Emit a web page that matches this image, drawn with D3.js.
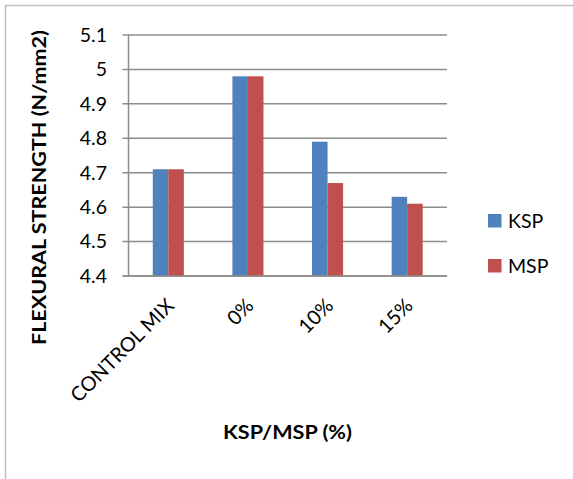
<!DOCTYPE html>
<html>
<head>
<meta charset="utf-8">
<script src="https://cdn.jsdelivr.net/npm/d3@7/dist/d3.min.js"></script>
<style>
  html, body { margin: 0; padding: 0; background: #fff; }
  svg { display: block; }
  text { font-family: Lato, "Open Sans", sans-serif; fill: #000; }
</style>
</head>
<body>
<svg id="chart" width="573" height="479"></svg>
<script>
const categories = ["CONTROL MIX", "0%", "10%", "15%"];
const seriesNames = ["KSP", "MSP"];
const kspValues = [4.71, 4.98, 4.79, 4.63];
const mspValues = [4.71, 4.98, 4.67, 4.61];
const yTicks = [4.4, 4.5, 4.6, 4.7, 4.8, 4.9, 5.0, 5.1];
const colors = ["#4F81BD", "#C0504D"];

const seriesValues = [kspValues, mspValues];
const data = categories.map((c, i) => ({
  cat: c,
  vals: seriesNames.map((s, j) => ({ s, v: seriesValues[j][i], j }))
}));

const svg = d3.select("#chart");

// outer border (extends beyond right & bottom of picture)
svg.append("rect")
  .attr("x", 5.5).attr("y", 5.5)
  .attr("width", 600).attr("height", 500)
  .attr("fill", "none").attr("stroke", "#bfbfbf").attr("stroke-width", 1.5);

const plot = { left: 128.5, right: 447, top: 35, bottom: 276 };

const y = d3.scaleLinear().domain([4.4, 5.1]).range([plot.bottom, plot.top]);
const x0 = d3.scaleBand().domain(categories).range([plot.left, plot.right])
  .paddingInner(0.61).paddingOuter(0.305);
const x1 = d3.scaleBand().domain(seriesNames).range([0, x0.bandwidth()]).padding(0);

// gridlines
svg.append("g")
  .selectAll("line").data(yTicks).join("line")
  .attr("x1", plot.left - 6).attr("x2", plot.right)
  .attr("y1", d => y(d)).attr("y2", d => y(d))
  .attr("stroke", "#8c8c8c").attr("stroke-width", 1.5);

// y axis line
svg.append("line")
  .attr("x1", plot.left).attr("x2", plot.left)
  .attr("y1", plot.top).attr("y2", plot.bottom)
  .attr("stroke", "#8c8c8c").attr("stroke-width", 1.5);

// y tick labels
svg.append("g")
  .selectAll("text").data(yTicks).join("text")
  .attr("x", 107).attr("y", d => y(d))
  .attr("dy", "0.35em")
  .attr("text-anchor", "end")
  .style("font-size", "19.5px")
  .text(d => d3.format("~g")(d));

// bars
const groups = svg.append("g").selectAll("g").data(data).join("g")
  .attr("transform", d => `translate(${x0(d.cat)},0)`);
groups.selectAll("rect").data(d => d.vals).join("rect")
  .attr("x", d => x1(d.s))
  .attr("width", x1.bandwidth())
  .attr("y", d => y(d.v))
  .attr("height", d => y(4.4) - y(d.v))
  .attr("fill", d => colors[d.j]);

// baseline over bars
svg.append("line")
  .attr("x1", plot.left - 6).attr("x2", plot.right)
  .attr("y1", plot.bottom).attr("y2", plot.bottom)
  .attr("stroke", "#8c8c8c").attr("stroke-width", 1.5);

// x tick labels rotated
svg.append("g")
  .selectAll("text").data(categories).join("text")
  .attr("transform", d => `translate(${x0(d) + x0.bandwidth() / 2 + 7},${plot.bottom + 31}) rotate(-45)`)
  .attr("text-anchor", "end")
  .style("font-size", "20px")
  .text(d => d);

// axis titles
svg.append("text")
  .attr("transform", `translate(46,187.5) rotate(-90)`)
  .attr("text-anchor", "middle")
  .style("font-size", "18px").style("font-weight", "bold")
  .attr("textLength", 315).attr("lengthAdjust", "spacingAndGlyphs")
  .text("FLEXURAL STRENGTH (N/mm2)");

svg.append("text")
  .attr("x", 287.5).attr("y", 439)
  .attr("text-anchor", "middle")
  .style("font-size", "18px").style("font-weight", "bold")
  .attr("textLength", 129).attr("lengthAdjust", "spacingAndGlyphs")
  .text("KSP/MSP (%)");

// legend
const legend = svg.append("g").selectAll("g").data(seriesNames).join("g")
  .attr("transform", (d, i) => `translate(488,${214 + i * 45})`);
legend.append("rect").attr("width", 13.5).attr("height", 13.5)
  .attr("fill", (d, i) => colors[i]);
legend.append("text").attr("x", 20).attr("y", 7).attr("dy", "0.36em")
  .style("font-size", "19.5px")
  .text(d => d);
</script>
</body>
</html>
